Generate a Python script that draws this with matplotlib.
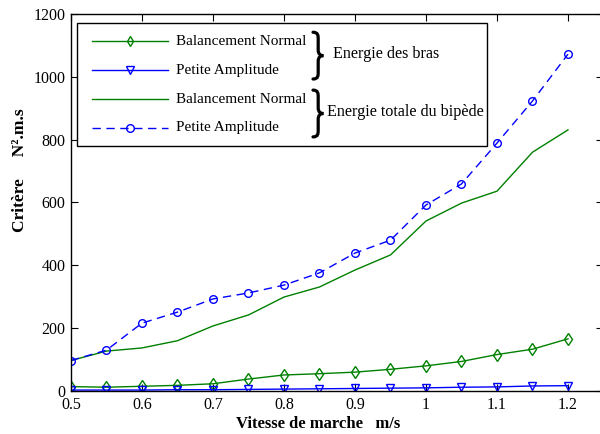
import matplotlib
matplotlib.use('Agg')
import matplotlib.pyplot as plt
from matplotlib.lines import Line2D
from matplotlib.patches import Rectangle, PathPatch
from matplotlib.path import Path

# vitesse de marche (m/s)
vitesse = [0.5, 0.55, 0.6, 0.65, 0.7, 0.75, 0.8, 0.85, 0.9, 0.95, 1.0, 1.05, 1.1, 1.15, 1.2]

# energie des bras
bras_normal = [14, 12, 15, 18, 23, 38, 51, 55, 60, 69, 80, 94, 116, 133, 166]
bras_petite = [3, 3, 3, 4, 4, 5, 6, 7, 8, 9, 10, 12, 13, 16, 17]

# energie totale du bipede
total_normal = [97, 127, 137, 160, 207, 242, 299, 331, 385, 433, 541, 598, 636, 760, 831]
total_petite = [97, 130, 216, 251, 293, 312, 337, 376, 439, 480, 592, 659, 789, 923, 1072]

green = '#008000'
blue = '#0000ff'

plt.rcParams['font.family'] = ['Liberation Serif', 'DejaVu Serif']
plt.rcParams['font.size'] = 11


def accolade(ax, x0, ym, w, h):
    # accolade fermante dessinee avec des courbes de bezier (coord. axes)
    q = w / 2
    verts = [(x0, ym + h),
             (x0 + q, ym + h), (x0 + q, ym + 0.85 * h), (x0 + q, ym + 0.7 * h),
             (x0 + q, ym + 0.25 * h),
             (x0 + q, ym + 0.05 * h), (x0 + 0.75 * w, ym), (x0 + w, ym),
             (x0 + 0.75 * w, ym), (x0 + q, ym - 0.05 * h), (x0 + q, ym - 0.25 * h),
             (x0 + q, ym - 0.7 * h),
             (x0 + q, ym - 0.85 * h), (x0 + q, ym - h), (x0, ym - h)]
    codes = [Path.MOVETO] + [Path.CURVE4] * 3 + [Path.LINETO] + [Path.CURVE4] * 6 + \
            [Path.LINETO] + [Path.CURVE4] * 3
    ax.add_patch(PathPatch(Path(verts, codes), transform=ax.transAxes, facecolor='none',
                           edgecolor='black', lw=2.3, capstyle='round', zorder=7))


fig = plt.figure(figsize=(6, 4.34), dpi=100)
ax = fig.add_axes([0.1183, 0.0991, 0.8875, 0.8687])

ms = 5.5
ax.plot(vitesse, bras_normal, color=green, lw=1, marker='d', mfc='none', ms=ms + 0.5, mew=1)
ax.plot(vitesse, bras_petite, color=blue, lw=1, marker='v', mfc='none', ms=ms, mew=1)
ax.plot(vitesse, total_normal, color=green, lw=1)
ax.plot(vitesse, total_petite, color=blue, lw=1, ls=(0, (6, 4)), marker='o', mfc='none', ms=ms, mew=1)

ax.set_xlim(0.5, 1.25)
ax.set_ylim(0, 1200)
ax.set_xticks([0.5, 0.6, 0.7, 0.8, 0.9, 1.0, 1.1, 1.2])
ax.set_xticklabels(['0.5', '0.6', '0.7', '0.8', '0.9', '1', '1.1', '1.2'])
ax.set_yticks(range(0, 1201, 200))
ax.tick_params(direction='in', top=True, right=True, length=5, labelsize=11.5, pad=4)
for s in ax.spines.values():
    s.set_linewidth(1)

ax.set_xlabel('Vitesse de marche   m/s', fontweight='bold', fontsize=12)
ax.xaxis.set_label_coords(0.464, -0.067)
ax.set_ylabel('Critère     N².m.s', fontweight='bold', fontsize=12.5)
ax.yaxis.set_label_coords(-0.080, 0.586)

# legende faite a la main
ax.add_patch(Rectangle((0.0113, 0.650), 0.7697, 0.326, transform=ax.transAxes,
                       facecolor='white', edgecolor='black', lw=1, zorder=5))
rows = [0.928, 0.851, 0.774, 0.698]
styles = [dict(color=green, marker='d', ls='-'),
          dict(color=blue, marker='v', ls='-'),
          dict(color=green, marker=None, ls='-'),
          dict(color=blue, marker='o', ls=(0, (6, 4)))]
labels = ['Balancement Normal', 'Petite Amplitude', 'Balancement Normal', 'Petite Amplitude']
for y, st, lab in zip(rows, styles, labels):
    ax.add_line(Line2D([0.0394, 0.182], [y, y], transform=ax.transAxes, color=st['color'],
                       ls=st['ls'], lw=1, zorder=6))
    if st['marker']:
        ax.add_line(Line2D([0.111], [y], transform=ax.transAxes, color=st['color'],
                           marker=st['marker'], mfc='none', ms=ms, mew=1, zorder=6))
    ax.text(0.197, y, lab, transform=ax.transAxes, va='center', ha='left', zorder=7)

accolade(ax, 0.4545, (rows[0] + rows[1]) / 2, 0.0195, 0.062)
accolade(ax, 0.4545, (rows[2] + rows[3]) / 2, 0.0195, 0.062)
ax.text(0.492, (rows[0] + rows[1]) / 2 + 0.004, 'Energie des bras', transform=ax.transAxes,
        va='center', ha='left', fontsize=11.6, zorder=7)
ax.text(0.481, (rows[2] + rows[3]) / 2 + 0.003, 'Energie totale du bipède', transform=ax.transAxes,
        va='center', ha='left', fontsize=11.6, zorder=7)

fig.savefig('out.png', dpi=100)
